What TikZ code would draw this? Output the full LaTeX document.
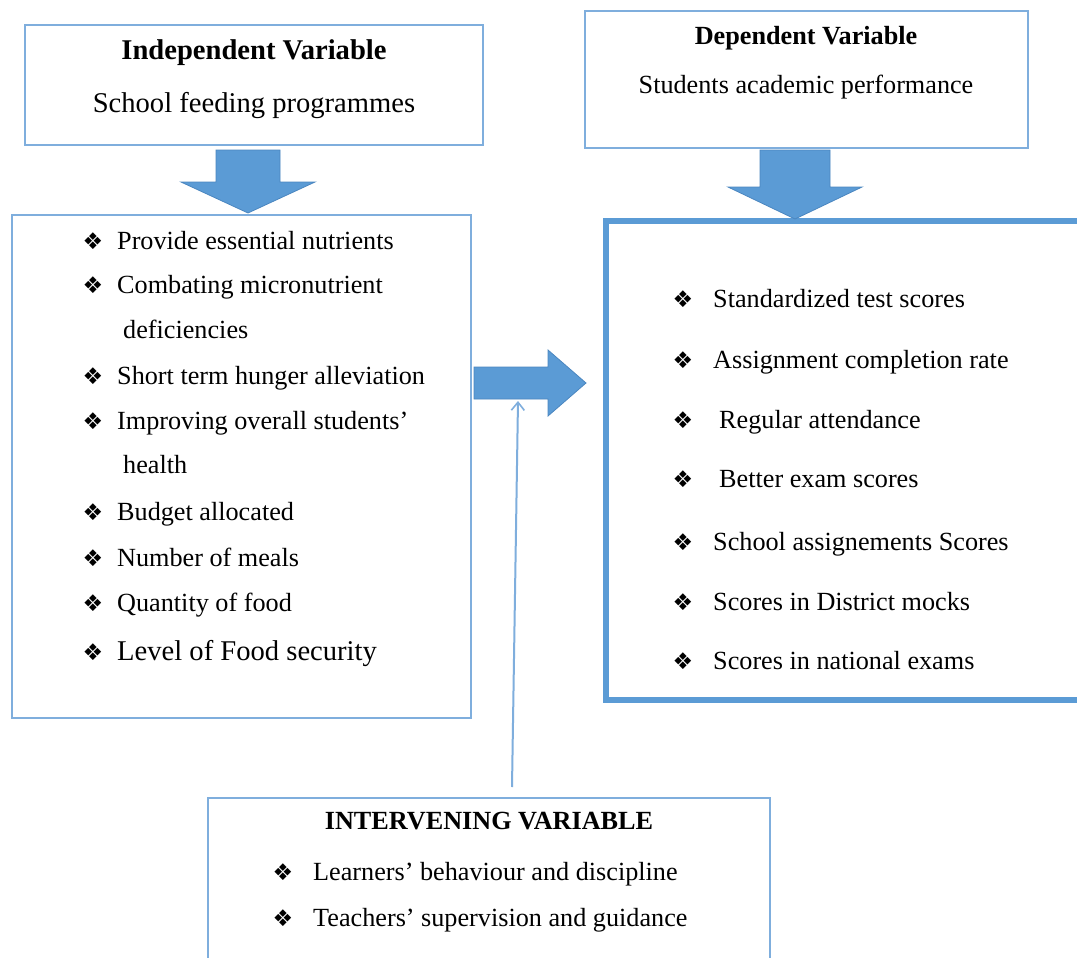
\documentclass[tikz,border=0pt]{standalone}
\usepackage{fontspec}
\setmainfont{Liberation Serif}
\newfontfamily\symfont{DejaVu Sans}
\usetikzlibrary{arrows.meta}

\definecolor{lineblue}{HTML}{7FAEDD}
\definecolor{fillblue}{HTML}{5B9BD5}
\definecolor{edgeblue}{HTML}{4A86C0}

\newcommand\bodysize{\fontsize{26.2pt}{31pt}\selectfont}
\newcommand\bigsize{\fontsize{28.6pt}{34pt}\selectfont}

\tikzset{
  x=1pt, y=-1pt,
  thinbox/.style={draw=lineblue, line width=1.6pt, inner sep=0pt, rectangle},
  thickbox/.style={draw=fillblue, line width=6pt, inner sep=0pt, rectangle},
  blockarrow/.style={fill=fillblue, draw=edgeblue, line width=0.8pt, line join=miter},
  thinarrow/.style={draw=lineblue, line width=2pt, -{Straight Barb[length=8pt,width=13pt,line width=1.6pt]}},
  txt/.style={anchor=base west, inner sep=0pt, font=\bodysize},
  bigtxt/.style={anchor=base west, inner sep=0pt, font=\bigsize},
  headtxt/.style={anchor=base, inner sep=0pt, font=\bodysize\bfseries},
  bighead/.style={anchor=base, inner sep=0pt, font=\bigsize\bfseries},
  subtxt/.style={anchor=base, inner sep=0pt, font=\bodysize},
  bigsub/.style={anchor=base, inner sep=0pt, font=\bigsize},
  bul/.style={anchor=center, inner sep=0pt, font=\symfont\fontsize{23pt}{23pt}\selectfont},
}

\begin{document}
\begin{tikzpicture}
\useasboundingbox (0,0) rectangle (1077,958);
\clip (0,0) rectangle (1077,958);
\fill[white] (0,0) rectangle (1077,958);

% ---- frames ----
\node[thinbox, minimum width=458pt, minimum height=120pt] (indep) at (254,85) {};
\node[thinbox, minimum width=443pt, minimum height=137pt] (dep) at (806.5,79.5) {};
\node[thinbox, minimum width=459pt, minimum height=503pt] (causes) at (241.5,466.5) {};
\node[thickbox, minimum width=479pt, minimum height=479pt] (effects) at (845.5,460.5) {};
\node[thinbox, minimum width=562pt, minimum height=172pt] (interv) at (489,884) {};

% ---- block arrows ----
\coordinate (a1) at (248,150);
\draw[blockarrow, shift={(a1)}] (-32,0) -- (32,0) -- (32,32) -- (67,32) -- (0,63) -- (-67,32) -- (-32,32) -- cycle;
\coordinate (a2) at (795,150);
\draw[blockarrow, shift={(a2)}] (-35,0) -- (35,0) -- (35,37) -- (67,37) -- (0,69) -- (-67,37) -- (-35,37) -- cycle;
\coordinate (a3) at (474,383);
\draw[blockarrow, shift={(a3)}] (0,-16) -- (74,-16) -- (74,-33) -- (112,0) -- (74,33) -- (74,16) -- (0,16) -- cycle;

% ---- intervening link ----
\coordinate (linkbot) at (512,787);
\coordinate (linktop) at (518,401);
\draw[thinarrow] (linkbot) -- (linktop);

% ---- independent variable ----
\node[bighead] (indeph) at (254,60) {Independent Variable};
\node[bigsub] (indeps) at (254,113) {School feeding programmes};

% ---- dependent variable ----
\node[headtxt] (deph) at (806,45) {Dependent Variable};
\node[subtxt] (deps) at (806,94) {Students academic performance};

% ---- school feeding indicators ----
\foreach \y/\t [count=\i] in {
  249/Provide essential nutrients,
  293/Combating micronutrient,
  384/Short term hunger alleviation,
  429/Improving overall students’,
  520/Budget allocated,
  566/Number of meals,
  611/Quantity of food}{
  \node[bul] (cb\i) at (93,\y-8) {❖};
  \node[txt] (ct\i) at (117,\y) {\t};
}
\node[txt] (cc1) at (123,338) {deficiencies};
\node[txt] (cc2) at (123,473) {health};
\node[bul] (cb8) at (93,652) {❖};
\node[bigtxt] (ct8) at (117,660) {Level of Food security};

% ---- performance indicators ----
\foreach \y/\x/\t [count=\i] in {
  307/713/Standardized test scores,
  368/713/Assignment completion rate,
  428/719/Regular attendance,
  487/719/Better exam scores,
  550/713/School assignements Scores,
  610/713/Scores in District mocks,
  669/713/Scores in national exams}{
  \node[bul] (eb\i) at (683,\y-8) {❖};
  \node[txt] (et\i) at (\x,\y) {\t};
}

% ---- intervening variable ----
\node[headtxt] (intervh) at (489,829) {INTERVENING VARIABLE};
\node[bul] (ib1) at (283,872) {❖};
\node[txt] (it1) at (313,880) {Learners’ behaviour and discipline};
\node[bul] (ib2) at (283,918) {❖};
\node[txt] (it2) at (313,926) {Teachers’ supervision and guidance};
\end{tikzpicture}
\end{document}
